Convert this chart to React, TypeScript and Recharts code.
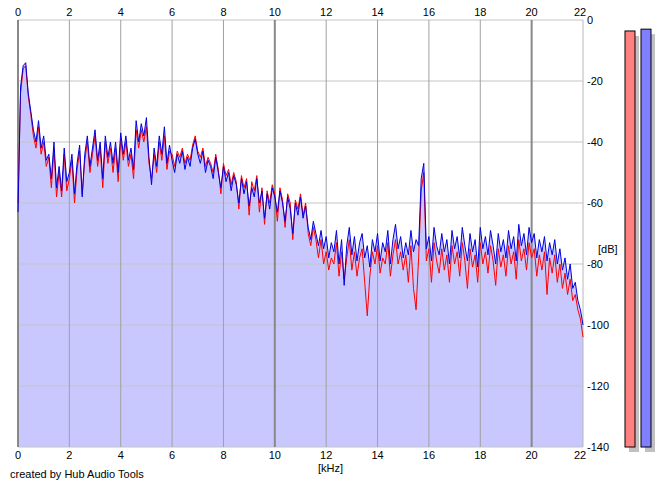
import React from 'react';
import {
  ComposedChart, Area, Line, XAxis, YAxis, ReferenceLine, BarChart, Bar, Cell, Text,
} from 'recharts';

// spectrum bins, 0.1 kHz apart, 0..22 kHz (dB)
const blueDb = [
  -63, -22, -15, -14, -24, -30, -36, -40, -33, -42,
  -38, -46, -44, -52, -40, -55, -48, -56, -42, -53,
  -50, -44, -57, -47, -41, -58, -44, -38, -48, -42,
  -36, -46, -40, -52, -38, -45, -40, -47, -40, -50,
  -37, -44, -38, -46, -42, -49, -33, -40, -34, -38,
  -32, -45, -54, -42, -48, -38, -44, -35, -47, -41,
  -46, -50, -44, -47, -43, -49, -45, -48, -42, -39,
  -44, -47, -43, -50, -46, -48, -52, -45, -50, -55,
  -48, -53, -50, -56, -51, -54, -60, -52, -57, -53,
  -61, -55, -58, -52, -60, -56, -65, -57, -62, -55,
  -58, -63, -56, -60, -66, -58, -62, -70, -60, -64,
  -58, -65, -61, -68, -72, -66, -70, -74, -69, -75,
  -71, -78, -73, -76, -69, -80, -72, -87, -74, -68,
  -77, -71, -79, -73, -70, -78, -74, -81, -72, -76,
  -70, -79, -73, -76, -69, -80, -72, -67, -75, -71,
  -78, -73, -77, -69, -76, -72, -74, -52, -47, -75,
  -71, -79, -68, -74, -77, -70, -76, -72, -80, -69,
  -75, -71, -78, -68, -74, -79, -70, -76, -72, -81,
  -68, -75, -71, -77, -69, -74, -80, -70, -76, -72,
  -78, -69, -75, -71, -79, -67, -74, -70, -77, -68,
  -73, -70, -78, -72, -76, -71, -79, -73, -77, -72,
  -80, -75, -82, -78, -85, -80, -88, -86, -92, -95,
  -100,
];

const redDb = [
  -60, -24, -16, -15, -25, -31, -38, -42, -35, -44,
  -40, -48, -45, -55, -42, -58, -50, -58, -44, -56,
  -52, -46, -60, -49, -43, -57, -46, -40, -50, -44,
  -38, -48, -42, -55, -40, -47, -42, -50, -42, -53,
  -39, -46, -40, -48, -44, -52, -36, -42, -36, -40,
  -35, -47, -52, -44, -50, -40, -46, -38, -49, -43,
  -44, -48, -43, -45, -42, -47, -44, -46, -41, -38,
  -43, -45, -42, -48, -45, -47, -50, -44, -49, -57,
  -47, -51, -49, -54, -50, -53, -62, -51, -55, -52,
  -64, -53, -56, -51, -63, -55, -67, -56, -60, -54,
  -57, -66, -55, -59, -68, -57, -60, -72, -59, -62,
  -57, -64, -60, -70, -74, -68, -72, -78, -72, -80,
  -76, -82, -78, -80, -73, -84, -76, -85, -78, -72,
  -82, -76, -84, -78, -75, -86, -97, -84, -76, -80,
  -74, -83, -78, -80, -73, -84, -77, -72, -80, -76,
  -82, -77, -86, -74, -88, -95, -78, -56, -50, -79,
  -75, -86, -73, -79, -83, -75, -82, -77, -86, -74,
  -80, -76, -84, -73, -79, -88, -75, -81, -77, -86,
  -73, -80, -76, -83, -74, -79, -87, -75, -81, -77,
  -84, -74, -80, -76, -85, -72, -79, -75, -82, -73,
  -78, -75, -84, -77, -82, -76, -90, -78, -83, -77,
  -86, -80, -88, -83, -90, -85, -92, -90, -95, -98,
  -104,
];

const kHzTicks = [0, 2, 4, 6, 8, 10, 12, 14, 16, 18, 20, 22];
const majorKHz = [0, 10, 20];
const dbTicks = [0, -20, -40, -60, -80, -100, -120, -140];

// peak level meters (left, right)
const meterNames = ['L', 'R'];
const meterDb = [-3.6, -3.0];
const meterColors = ['#ff8080', '#8080ff'];

const freqs = blueDb.map((_, i) => i / 10);
const data = freqs.map((f, i) => ({ f, blue: blueDb[i], red: redDb[i] }));
const meters = meterNames.map((name, i) => ({ name, level: [-140, meterDb[i]] }));

const W = 665;
const H = 487;
// plot area: x 18..583, y 20..447
const margin = { top: 0, right: 42, bottom: 20, left: 18 };
const fontFamily = '"Liberation Sans", Arial, sans-serif';
const font = { fontSize: 11, fill: '#000', fontFamily };
const layer: React.CSSProperties = { position: 'absolute', left: 0, top: 0 };

const MeterShape = (props: any) => {
  const { x, y, width, height, fill } = props;
  return (
    <g>
      <rect x={x + 4} y={y + 5} width={width} height={height} fill="#c0c0c0" />
      <rect x={x} y={y} width={width} height={height} fill={fill} stroke="#000" strokeWidth={1} />
    </g>
  );
};

// the last kHz label sits a little left of its line, as in the original
const KHzTick = (props: any) => {
  const { x, y, payload, textAnchor, verticalAnchor } = props;
  const last = payload.value === kHzTicks[kHzTicks.length - 1];
  return (
    <Text x={last ? x - 3 : x} y={y} textAnchor={textAnchor} verticalAnchor={verticalAnchor}
      fontSize={11} fill="#000" fontFamily={fontFamily}>
      {payload.value}
    </Text>
  );
};

// same axis frame for every layer, ticks only shown on the top layer
const Axes = ({ show }: { show: boolean }) => [
  <XAxis key="xt" xAxisId="top" orientation="top" dataKey="f" type="number" domain={[0, 22]} ticks={kHzTicks}
    height={20} tickSize={0} tickMargin={4} axisLine={false} tickLine={false} tick={show ? KHzTick : false} interval={0} />,
  <XAxis key="xb" xAxisId="bottom" orientation="bottom" dataKey="f" type="number" domain={[0, 22]} ticks={kHzTicks}
    height={20} tickSize={0} tickMargin={4} axisLine={false} tickLine={false} tick={show ? KHzTick : false} interval={0} />,
  <YAxis key="y" orientation="right" domain={[-140, 0]} ticks={dbTicks} width={40} tickSize={0} tickMargin={4}
    axisLine={false} tickLine={false} tick={show ? font : false} interval={0} />,
];

export default function App() {
  return (
    <div style={{ position: 'absolute', left: 0, top: 0, width: W, height: H, background: '#fff', fontFamily }}>
      {/* filled spectrum */}
      <div style={layer}>
        <ComposedChart width={W} height={H} data={data} margin={margin}>
          {Axes({ show: false })}
          <Area xAxisId="bottom" dataKey="blue" type="linear" baseValue={-140} stroke="none" fill="#c8c8ff" fillOpacity={1} isAnimationActive={false} />
          <Area xAxisId="bottom" dataKey="red" type="linear" baseValue={-140} stroke="none" fill="#c8c8ff" fillOpacity={1} isAnimationActive={false} />
        </ComposedChart>
      </div>

      {/* grid over the fill */}
      <div style={layer}>
        <ComposedChart width={W} height={H} data={data} margin={margin}>
          {Axes({ show: false })}
          <Line xAxisId="bottom" dataKey="blue" stroke="none" dot={false} isAnimationActive={false} />
          {dbTicks.map((d) => (
            <ReferenceLine key={'h' + d} xAxisId="bottom" y={d} stroke="#c4c4c4" strokeWidth={1} />
          ))}
          {kHzTicks.filter((k) => !majorKHz.includes(k)).map((k) => (
            <ReferenceLine key={'v' + k} xAxisId="bottom" x={k} stroke={k === 22 ? '#b8b8b8' : '#a0a0a0'} strokeWidth={1} />
          ))}
          {majorKHz.map((k) => (
            <ReferenceLine key={'m' + k} xAxisId="bottom" x={k} stroke="#888888" strokeWidth={2} />
          ))}
        </ComposedChart>
      </div>

      {/* spectrum lines and axes */}
      <div style={layer}>
        <ComposedChart width={W} height={H} data={data} margin={margin}>
          {Axes({ show: true })}
          <Line xAxisId="bottom" dataKey="red" type="linear" stroke="#ff0000" strokeWidth={1} dot={false} isAnimationActive={false} />
          <Line xAxisId="bottom" dataKey="blue" type="linear" stroke="#0000e0" strokeWidth={1} dot={false} isAnimationActive={false} />
        </ComposedChart>
      </div>

      {/* level meters */}
      <div style={{ position: 'absolute', left: 622, top: 0 }}>
        <BarChart width={42} height={H} data={meters} margin={{ top: 20, right: 10, bottom: 40, left: 0 }}>
          <XAxis dataKey="name" hide />
          <YAxis domain={[-140, 0]} hide />
          <Bar dataKey="level" barSize={10} shape={MeterShape} isAnimationActive={false}>
            {meters.map((m, i) => (
              <Cell key={m.name} fill={meterColors[i]} />
            ))}
          </Bar>
        </BarChart>
      </div>

      <div style={{ position: 'absolute', left: 318, top: 462, fontSize: 11, lineHeight: '13px' }}>[kHz]</div>
      <div style={{ position: 'absolute', left: 598, top: 243, fontSize: 11, lineHeight: '13px' }}>[dB]</div>
      <div style={{ position: 'absolute', left: 10, top: 468, fontSize: 11, lineHeight: '13px' }}>created by Hub Audio Tools</div>
    </div>
  );
}
